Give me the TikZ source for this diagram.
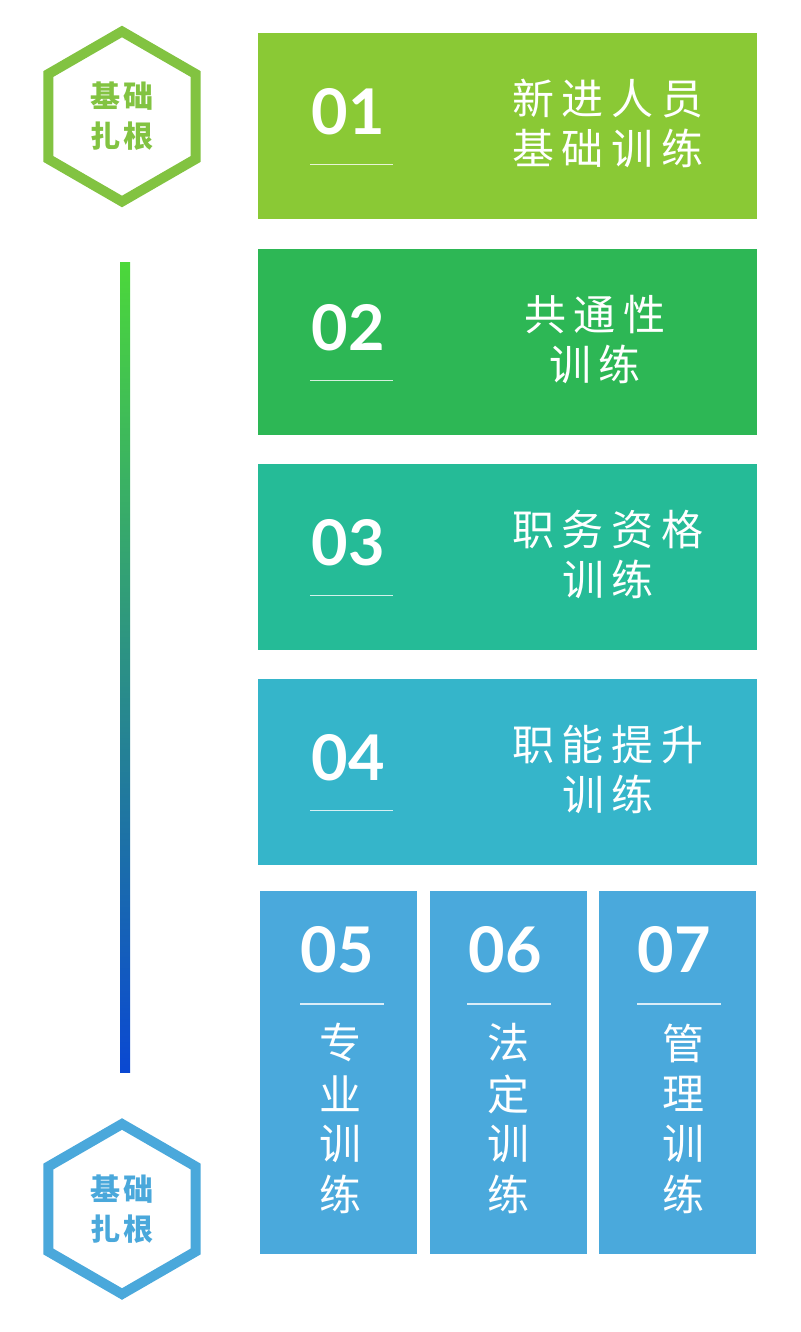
\documentclass[tikz,border=0pt]{standalone}
\usepackage{fontspec}
\newfontfamily\cjk{Noto Sans CJK SC}
\newfontfamily\numfont{Lato}
\usetikzlibrary{shapes.geometric}
\definecolor{cA}{HTML}{8AC935}
\definecolor{cB}{HTML}{2DB755}
\definecolor{cC}{HTML}{25BB97}
\definecolor{cD}{HTML}{35B5CA}
\definecolor{cE}{HTML}{4AA9DC}
\definecolor{hexG}{HTML}{82C341}
\definecolor{hexB}{HTML}{4AA8DB}
\definecolor{barTop}{HTML}{4CD83A}
\definecolor{barBot}{HTML}{0A48D2}
\newcommand\lsp{\hspace{8pt}}
\newcommand\hsp{\hspace{3pt}}
\tikzset{
  hexnode/.style={regular polygon, regular polygon sides=6, shape border rotate=30,
    minimum size=170pt, line width=10pt, line join=miter, inner sep=0pt,
    align=center, font=\cjk\bfseries\fontsize{30}{40}\selectfont},
  bigbox/.style={anchor=north west, minimum width=499pt, minimum height=186pt, inner sep=0pt, outer sep=0pt},
  tallbox/.style={anchor=north west, minimum width=157pt, minimum height=363pt, inner sep=0pt, outer sep=0pt},
  numtxt/.style={text=white, inner sep=0pt, font=\numfont\bfseries\fontsize{63}{63}\selectfont},
  cjktxt/.style={text=white, inner sep=0pt, font=\cjk\fontsize{42}{49}\selectfont},
  uline/.style={draw=white, draw opacity=0.8, line width=1.3pt}
}
\begin{document}
\begin{tikzpicture}[x=1pt,y=-1pt]
\useasboundingbox[fill=white] (0,0) rectangle (800,1332);

% hexagons
\node[hexnode, draw=hexG, text=hexG] (hexTop) at (122,116.5) {基\hsp 础\\扎\hsp 根};
\node[hexnode, draw=hexB, text=hexB] (hexBot) at (122,1209) {基\hsp 础\\扎\hsp 根};

% gradient bar
\shade[top color=barTop, bottom color=barBot] (120,262) rectangle (130,1072);

% big boxes
\foreach \i/\top/\col/\num/\cx/\la/\lb in {
  1/33/cA/01/608/{新\lsp 进\lsp 人\lsp 员}/{基\lsp 础\lsp 训\lsp 练},
  2/249/cB/02/595/{共\lsp 通\lsp 性}/{训\lsp 练},
  3/464/cC/03/608/{职\lsp 务\lsp 资\lsp 格}/{训\lsp 练},
  4/679/cD/04/608/{职\lsp 能\lsp 提\lsp 升}/{训\lsp 练}}{
  \node[bigbox, fill=\col] (box\i) at (258,\top) {};
  \node[numtxt] (num\i) at (348,\top+79) {\num};
  \coordinate (ulA\i) at (310,\top+131.5);
  \coordinate (ulB\i) at (393,\top+131.5);
  \draw[uline] (ulA\i) -- (ulB\i);
  \node[cjktxt] (la\i) at (\cx,\top+66) {\la};
  \node[cjktxt] (lb\i) at (\cx,\top+115) {\lb};
}

% tall boxes
\foreach \i/\x/\nx/\ux/\tx/\num/\ca/\cb in {
  5/260/337.5/300/340/05/专/业,
  6/430/505/467/508/06/法/定,
  7/599/674/637/683/07/管/理}{
  \node[tallbox, fill=cE] (box\i) at (\x,891) {};
  \node[numtxt] (num\i) at (\nx,950) {\num};
  \coordinate (ulA\i) at (\ux,1004);
  \coordinate (ulB\i) at (\ux+84,1004);
  \draw[uline] (ulA\i) -- (ulB\i);
  \node[cjktxt] (ca\i) at (\tx,1043) {\ca};
  \node[cjktxt] (cb\i) at (\tx,1094) {\cb};
  \node[cjktxt] (cc\i) at (\tx,1144) {训};
  \node[cjktxt] (cd\i) at (\tx,1194) {练};
}
\end{tikzpicture}
\end{document}
